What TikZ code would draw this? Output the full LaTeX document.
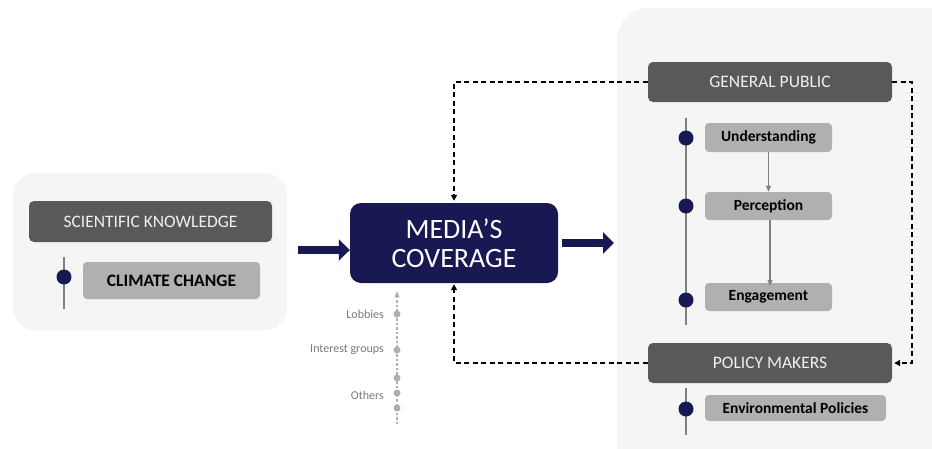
\documentclass[tikz,border=0pt]{standalone}
\usepackage{fontspec}
\setmainfont{Carlito}
\usetikzlibrary{arrows.meta,positioning}

\definecolor{navy}{RGB}{24,24,82}
\definecolor{panelbg}{RGB}{245,245,245}
\definecolor{darkgrey}{RGB}{89,89,89}
\definecolor{lightgrey}{RGB}{176,176,176}
\definecolor{linegrey}{RGB}{128,128,128}
\definecolor{dotgrey}{RGB}{175,175,175}
\definecolor{labelgrey}{RGB}{120,120,120}

\tikzset{
  panel/.style={fill=panelbg, draw=none},
  headbox/.style={fill=darkgrey, rounded corners=5pt, text=white!94!black,
    inner sep=0pt, font=\fontsize{17.5}{20}\selectfont},
  itembox/.style={fill=lightgrey, rounded corners=4pt, text=black,
    inner sep=0pt, font=\fontsize{15.5}{18}\selectfont\bfseries},
  mediabox/.style={fill=navy, rounded corners=11pt, text=white, inner sep=0pt,
    align=center, font=\fontsize{28}{29}\selectfont},
  navydot/.style={circle, fill=navy, inner sep=0pt, minimum size=15pt},
  greydot/.style={circle, fill=dotgrey, inner sep=0pt, minimum size=7pt},
  stem/.style={draw=linegrey, line width=2.6pt},
  bigarrow/.style={draw=navy, line width=7.5pt,
    -{Triangle[length=11pt,width=21pt]}},
  feedback/.style={draw=black, line width=1.6pt, dash pattern=on 5pt off 3.5pt,
    -{Triangle[length=6pt,width=6pt]}},
  flow/.style={draw=linegrey, line width=1.3pt,
    -{Triangle[length=6pt,width=5pt]}},
  influence/.style={draw=dotgrey, line width=1.2pt, dash pattern=on 2.5pt off 2pt,
    -{Triangle[length=6pt,width=5pt]}},
  sidelabel/.style={text=labelgrey, anchor=east, inner sep=0pt,
    font=\fontsize{12}{14}\selectfont},
}

\begin{document}
\begin{tikzpicture}[x=1pt, y=-1pt]
  \useasboundingbox (0,0) rectangle (932,448);
  \clip (0,0) rectangle (932,448);

  % background panels
  \fill[panel, rounded corners=22pt] (13,173) rectangle (287,330);
  \fill[panel, rounded corners=32pt] (617,8) rectangle (962,478);

  % left group: scientific knowledge
  \node[headbox, minimum width=243pt, minimum height=41pt] (sci) at (150.5,221.5) {SCIENTIFIC KNOWLEDGE};
  \draw[stem] (64,257) -- (64,309);
  \node[navydot] (dcc) at (64,277) {};
  \node[itembox, minimum width=177pt, minimum height=37pt,
    font=\fontsize{17.5}{20}\selectfont\bfseries] (cc) at (171.5,280.5) {CLIMATE CHANGE};

  % central node
  \node[mediabox, minimum width=208pt, minimum height=80pt] (media) at (454,243) {MEDIA’S\\COVERAGE};

  % main flow arrows
  \coordinate (inA) at (298,250);
  \coordinate (outB) at (614,243);
  \draw[bigarrow] (inA) -- (inA -| media.west);
  \draw[bigarrow] (media.east |- outB) ++(4,0) -- (outB);

  % right group: general public
  \node[headbox, minimum width=244pt, minimum height=40pt] (gp) at (770,82) {GENERAL PUBLIC};
  \draw[stem] (686,118) -- (686,325);
  \node[itembox, minimum width=127pt, minimum height=29pt] (und) at (768.5,137.5) {Understanding};
  \node[itembox, minimum width=127pt, minimum height=28pt] (per) at (768.5,206) {Perception};
  \node[itembox, minimum width=127pt, minimum height=28pt] (eng) at (768.5,297) {Engagement};
  \node[navydot] (dund) at (686,138) {};
  \node[navydot] (dper) at (686,206) {};
  \node[navydot] (deng) at (686,300) {};
  \draw[flow] (und) -- (per);
  \draw[flow] (per.south) ++(1.5,0) -- ([xshift=1.5pt,yshift=-3pt]eng.north);

  % right group: policy makers
  \node[headbox, minimum width=244pt, minimum height=40pt] (pm) at (770,363) {POLICY MAKERS};
  \draw[stem] (686,388) -- (686,435);
  \node[navydot] (denv) at (686,409) {};
  \node[itembox, minimum width=181pt, minimum height=26pt] (env) at (795.5,408) {Environmental Policies};

  % feedback loops
  \coordinate (loopR) at (912,82);
  \draw[feedback, shorten >=2pt] (gp.west) -| (media.north);
  \draw[feedback, shorten >=2pt] (gp.east) -- (loopR) |- (pm.east);
  \draw[feedback, shorten >=1pt] (pm.west) -| (media.south);

  % other influences
  \coordinate (infl) at (397,424);
  \draw[influence, shorten >=8pt] (infl) -- (infl |- media.south);
  \node[greydot] (lob) at (397,314) {};
  \node[greydot] (ig) at (397,350) {};
  \node[greydot] (o1) at (397,378) {};
  \node[greydot] (o2) at (397,393) {};
  \node[greydot] (o3) at (397,408) {};
  \node[sidelabel] (lobt) at (384,314) {Lobbies};
  \node[sidelabel] (igt) at (384,350) {Interest groups};
  \node[sidelabel] (ot) at (384,395) {Others};
\end{tikzpicture}
\end{document}
